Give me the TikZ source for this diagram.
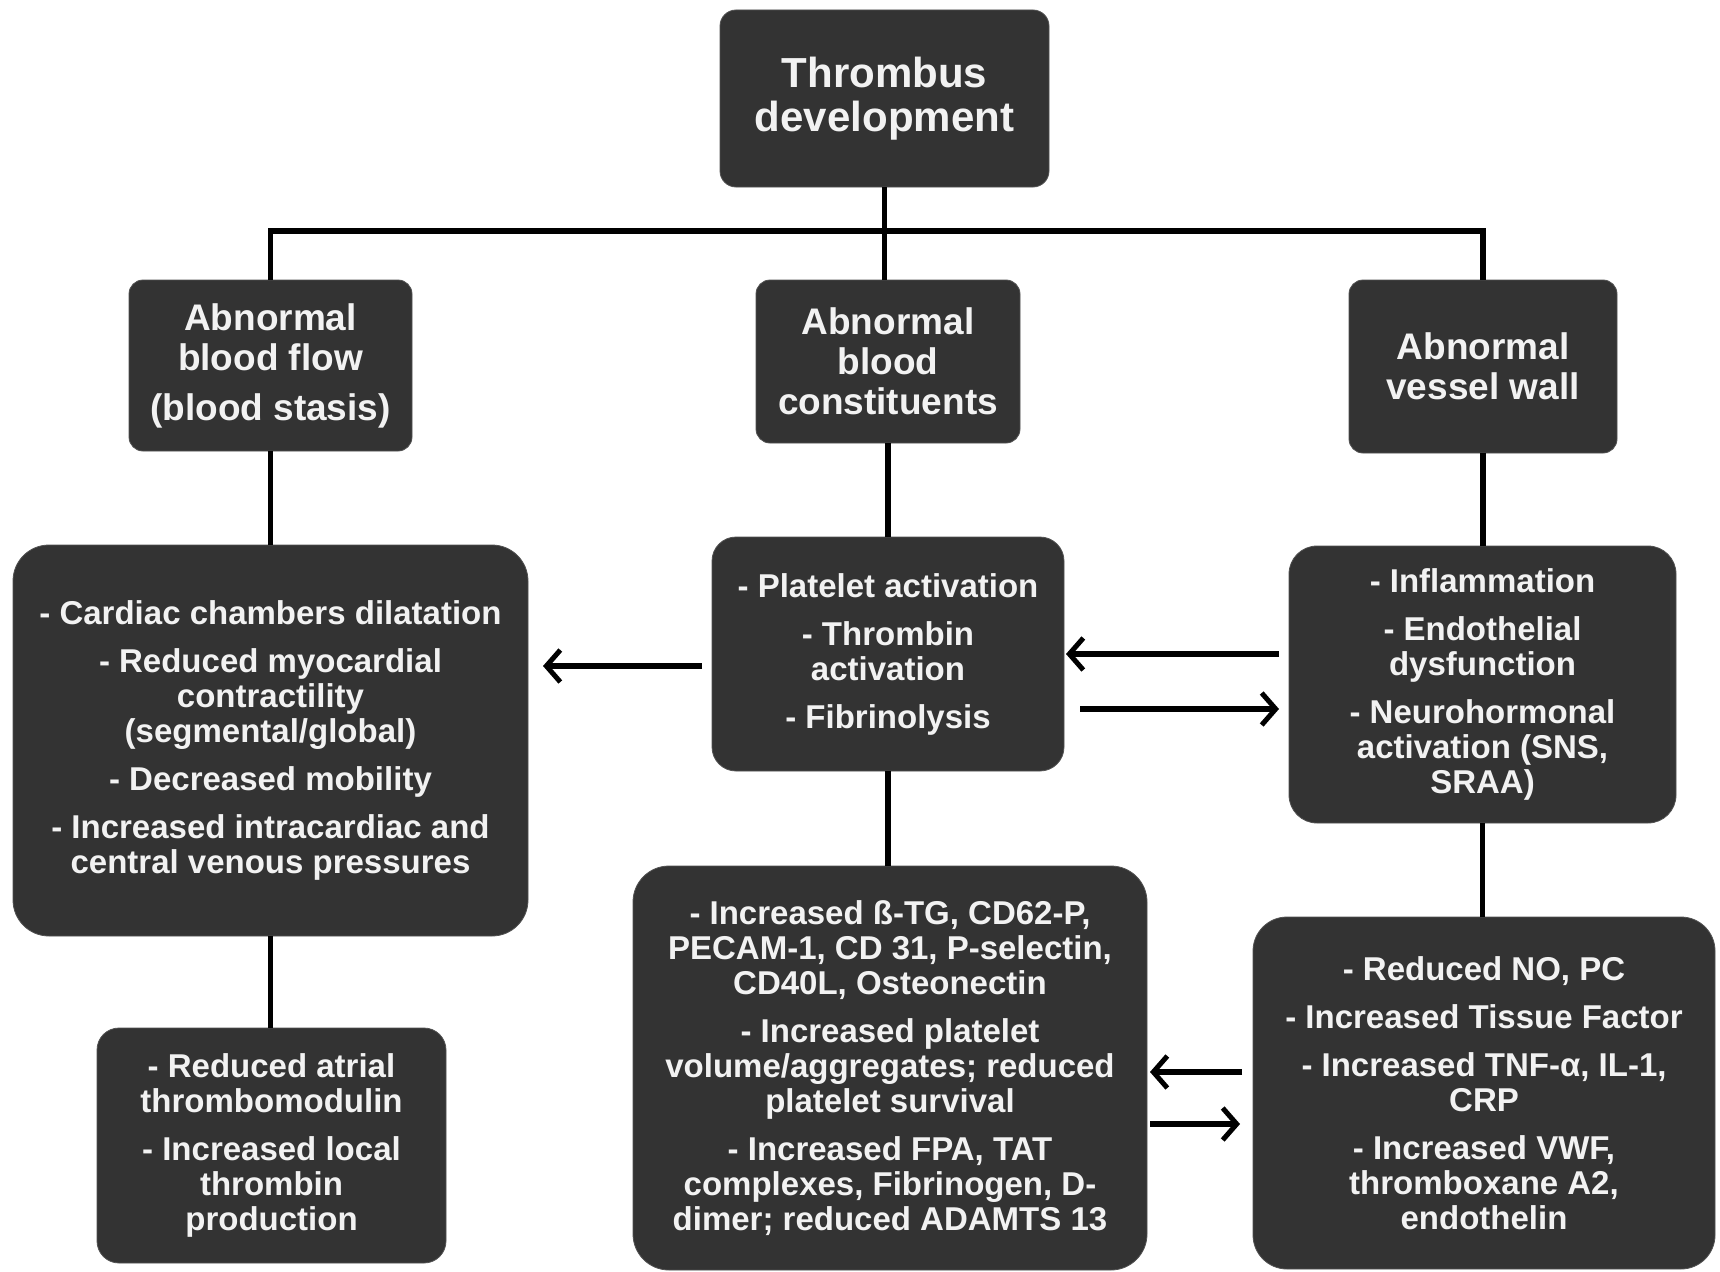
\documentclass[tikz,border=0pt]{standalone}
\usepackage{fontspec}
\setmainfont{Liberation Sans}
\usetikzlibrary{arrows.meta,calc}
\definecolor{boxgray}{HTML}{333333}
\definecolor{txt}{HTML}{F2F2F2}
\begin{document}
\begin{tikzpicture}[x=1pt,y=-1pt,
  box/.style={rectangle, fill=boxgray, draw=boxgray!85!white, line width=0.8pt, text=txt, align=center, inner sep=0pt},
  bodyfont/.style={font=\fontsize{33}{35}\selectfont\bfseries},
  headfont/.style={font=\fontsize{37}{40}\selectfont\bfseries},
  conn/.style={line width=5.5pt},
  arr/.style={line width=5.5pt, -{Straight Barb[length=14pt,width=32pt,line width=5pt]}}]
\useasboundingbox (0,0) rectangle (1720,1271);
\fill[white] (0,0) rectangle (1720,1271);

% nodes
\node[box, rounded corners=16pt, minimum width=329pt, minimum height=177pt,
      font=\fontsize{42}{44}\selectfont\bfseries] (top) at (884.5,98.5)
      {Thrombus\\development};

\node[box, headfont, rounded corners=14pt, minimum width=283pt, minimum height=171pt] (L1) at (270.5,365.5)
      {Abnormal\\blood flow\\[10pt](blood stasis)};
\node[box, headfont, rounded corners=14pt, minimum width=264pt, minimum height=163pt] (M1) at (888,361.5)
      {Abnormal\\blood\\constituents};
\node[box, headfont, rounded corners=14pt, minimum width=268pt, minimum height=173pt] (R1) at (1483,366.5)
      {Abnormal\\vessel wall};

\node[box, bodyfont, rounded corners=36pt, minimum width=515pt, minimum height=391pt] (L2) at (270.5,740.5)
      {- Cardiac chambers dilatation\\[13pt]
       - Reduced myocardial\\contractility\\(segmental/global)\\[13pt]
       - Decreased mobility\\[13pt]
       - Increased intracardiac and\\central venous pressures};
\node[box, bodyfont, rounded corners=24pt, minimum width=352pt, minimum height=234pt] (M2) at (888,654)
      {- Platelet activation\\[13pt]
       - Thrombin\\activation\\[13pt]
       - Fibrinolysis};
\node[box, bodyfont, rounded corners=28pt, minimum width=387pt, minimum height=277pt] (R2) at (1482.5,684.5)
      {- Inflammation\\[13pt]
       - Endothelial\\dysfunction\\[13pt]
       - Neurohormonal\\activation (SNS,\\SRAA)};

\node[box, bodyfont, rounded corners=22pt, minimum width=349pt, minimum height=235pt] (L3) at (271.5,1145.5)
      {- Reduced atrial\\thrombomodulin\\[13pt]
       - Increased local\\thrombin\\production};
\node[box, bodyfont, rounded corners=36pt, minimum width=514pt, minimum height=404pt] (M3) at (890,1068)
      {- Increased ß-TG, CD62-P,\\PECAM-1, CD 31, P-selectin,\\CD40L, Osteonectin\\[13pt]
       - Increased platelet\\volume/aggregates; reduced\\platelet survival\\[13pt]
       - Increased FPA, TAT\\complexes, Fibrinogen, D-\\dimer; reduced ADAMTS 13};
\node[box, bodyfont, rounded corners=34pt, minimum width=462pt, minimum height=352pt] (R3) at (1484,1093)
      {- Reduced NO, PC\\[13pt]
       - Increased Tissue Factor\\[13pt]
       - Increased TNF-α, IL-1,\\CRP\\[13pt]
       - Increased VWF,\\thromboxane A2,\\endothelin};

% tree connectors
\coordinate (bus) at (885,231);
\draw[conn] (top.south) -- (top.south |- bus);
\draw[conn] (L1.north) -- (L1.north |- bus) -- (R1.north |- bus) -- (R1.north);
\draw[conn] (top.south |- bus) -- (top.south |- M1.north);
\draw[conn] (L1.south) -- (L1.south |- L2.north);
\draw[conn] (L2.south) -- (L2.south |- L3.north);
\draw[conn] (M1.south) -- (M1.south |- M2.north);
\draw[conn] (M2.south) -- (M2.south |- M3.north);
\draw[conn] (R1.south) -- (R1.south |- R2.north);
\draw[conn] (R2.south) -- (R2.south |- R3.north);

% horizontal arrows
\coordinate (a1s) at (702,666);  \coordinate (a1e) at (543,666);
\coordinate (a2s) at (1279,654); \coordinate (a2e) at (1066,654);
\coordinate (a3s) at (1080,709); \coordinate (a3e) at (1279,709);
\coordinate (a4s) at (1242,1072); \coordinate (a4e) at (1150,1072);
\coordinate (a5s) at (1150,1124); \coordinate (a5e) at (1240,1124);
\draw[arr] (a1s) -- (a1e);
\draw[arr] (a2s) -- (a2e);
\draw[arr] (a3s) -- (a3e);
\draw[arr] (a4s) -- (a4e);
\draw[arr] (a5s) -- (a5e);
\end{tikzpicture}
\end{document}
